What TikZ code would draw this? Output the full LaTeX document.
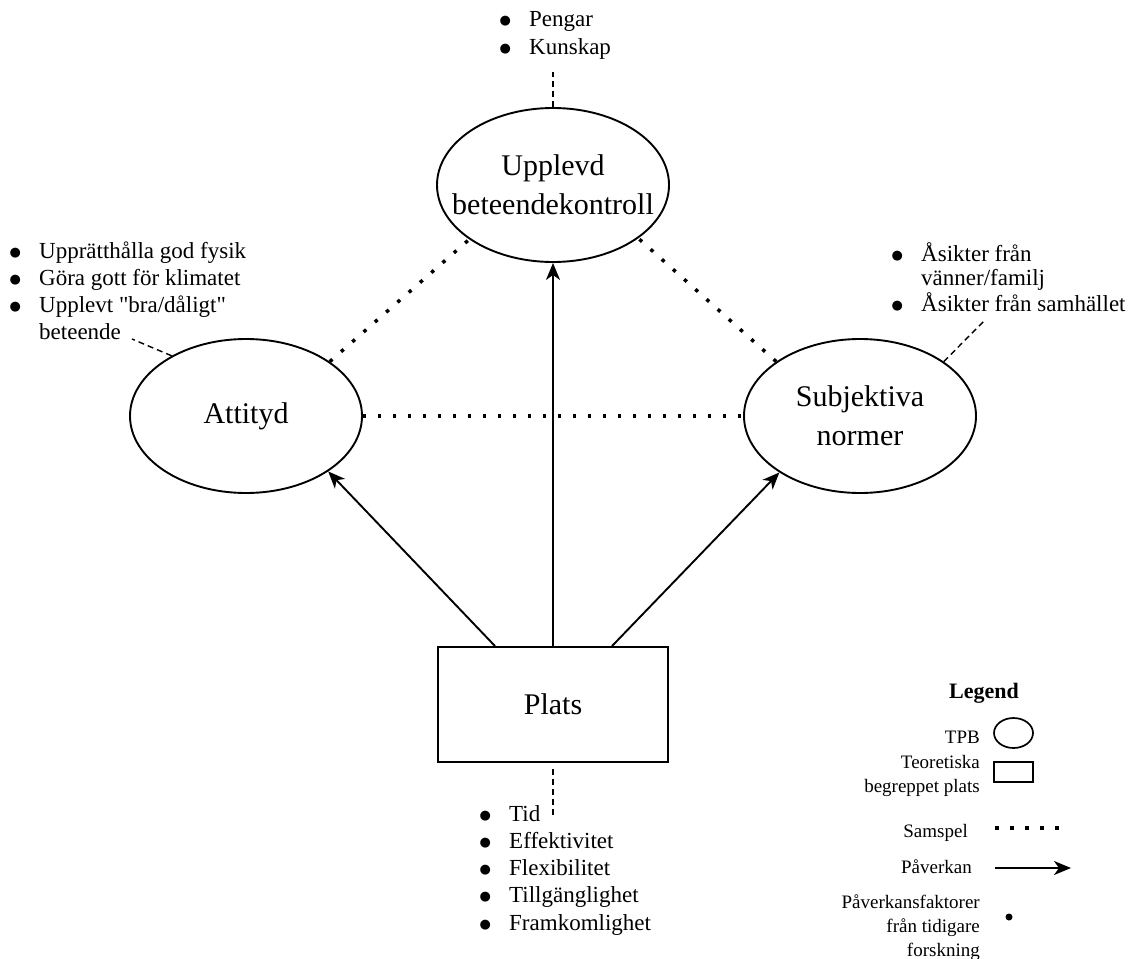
\documentclass[tikz,border=0pt]{standalone}
\usepackage{fontspec}
\setmainfont{Liberation Serif}
\newfontfamily\plainserif{Liberation Serif}
\newfontfamily\dotfont{DejaVu Sans}
\usetikzlibrary{shapes.geometric, arrows.meta}

\newcommand{\blt}{\makebox[8pt]{\fontsize{13}{13}\dotfont\raisebox{2pt}{●}}}
\newcommand{\bgap}{\hspace{20pt}}
\newcommand{\qt}{{\plainserif"}}

\begin{document}
\begin{tikzpicture}[x=1pt, y=-1pt,
  tpb/.style={draw, ellipse, line width=1.9pt, inner sep=0pt, minimum width=232pt, minimum height=154pt},
  platsbox/.style={draw, rectangle, line width=1.9pt, inner sep=0pt},
  big/.style={font=\fontsize{30}{39}\selectfont, align=center, inner sep=0pt},
  list/.style={font=\fontsize{23}{27.3}\selectfont, inner sep=0pt, anchor=base west},
  legtext/.style={font=\fontsize{19}{24}\selectfont, inner sep=0pt, anchor=base east},
  samspel/.style={line width=3.5pt, dash pattern=on 3.5pt off 11.5pt},
  faktor/.style={line width=1.4pt, dash pattern=on 6pt off 4pt},
  paverkan/.style={->, line width=1.9pt},
  >={Stealth[length=17pt, width=14pt, inset=5pt]}
]
\useasboundingbox (0,0) rectangle (1134,958);

\node[tpb] (pbc) at (553,185) {};
\node[big] (pbctext) at (pbc) {Upplevd\\beteendekontroll};
\node[tpb] (att) at (246,416) {};
\node[big] (atttext) at (att) {Attityd};
\node[tpb] (sn) at (860,416) {};
\node[big] (sntext) at (sn) {Subjektiva\\normer};
\node[platsbox, font=\fontsize{30}{39}\selectfont, minimum width=230pt, minimum height=115pt] (plats) at (553,704.5) {Plats};

% faktorer
\node[list] (pbclist) at (501,27) {\begin{tabular}[t]{@{}l@{\bgap}l@{}}
\blt & Pengar\\
\blt & Kunskap
\end{tabular}};
\node[list] (attlist) at (11,258) {\begin{tabular}[t]{@{}l@{\bgap}l@{}}
\blt & Upprätthålla god fysik\\
\blt & Göra gott för klimatet\\
\blt & Upplevt \qt bra/dåligt\qt\\
 & beteende
\end{tabular}};
\node[list, font=\fontsize{23}{24.5}\selectfont] (snlist) at (893,261) {\begin{tabular}[t]{@{}l@{\bgap}l@{}}
\blt & Åsikter från\\
 & vänner/familj\\
\blt & Åsikter från samhället
\end{tabular}};
\node[list] (platslist) at (481,821) {\begin{tabular}[t]{@{}l@{\bgap}l@{}}
\blt & Tid\\
\blt & Effektivitet\\
\blt & Flexibilitet\\
\blt & Tillgänglighet\\
\blt & Framkomlighet
\end{tabular}};

\coordinate (pbcend) at (553,72);
\coordinate (attend) at (132,339);
\coordinate (snend) at (985,320);
\coordinate (platsend) at (553,818);

\path[]
(plats) edge[paverkan] (pbc)
([xshift=-58pt]plats.north) edge[paverkan] (att.326)
([xshift=59pt]plats.north) edge[paverkan] (sn.215)
(att.33) edge[samspel] (pbc.213)
(sn.147) edge[samspel] (pbc.328)
(att.east) edge[samspel] (sn.west)
(pbc.north) edge[faktor] (pbcend)
(att.141) edge[faktor] (attend)
(sn.33) edge[faktor] (snend)
([yshift=-6pt]plats.south) edge[faktor] (platsend)
;

% legend
\node[font=\fontsize{22}{26}\selectfont\bfseries, inner sep=0pt, anchor=base] (legend) at (984,698) {Legend};
\node[legtext] (lgtpbtext) at (980,743) {TPB};
\node[tpb, minimum width=39pt, minimum height=30pt, line width=1.7pt] (lgtpb) at (1013.5,733) {};
\node[legtext] (lgplatstext) at (980,768) {\begin{tabular}[t]{@{}r@{}}Teoretiska\\begreppet plats\end{tabular}};
\node[platsbox, line width=1.7pt, minimum width=39pt, minimum height=20pt] (lgplats) at (1013.5,772) {};
\node[legtext] (lgsamspel) at (968,837) {Samspel};
\node[legtext] (lgpaverkan) at (972,873) {Påverkan};
\node[legtext] (lgfaktor) at (980,908) {\begin{tabular}[t]{@{}r@{}}Påverkansfaktorer\\från tidigare\\forskning\end{tabular}};
\node[circle, fill, inner sep=0pt, minimum size=7pt] (lgdot) at (1009,917) {};
\coordinate (lgsamA) at (995,828);
\coordinate (lgsamB) at (1060,828);
\coordinate (lgpavA) at (995,868);
\coordinate (lgpavB) at (1071,868);

\path[]
(lgsamA) edge[samspel] (lgsamB)
(lgpavA) edge[paverkan] (lgpavB)
;
\end{tikzpicture}
\end{document}
